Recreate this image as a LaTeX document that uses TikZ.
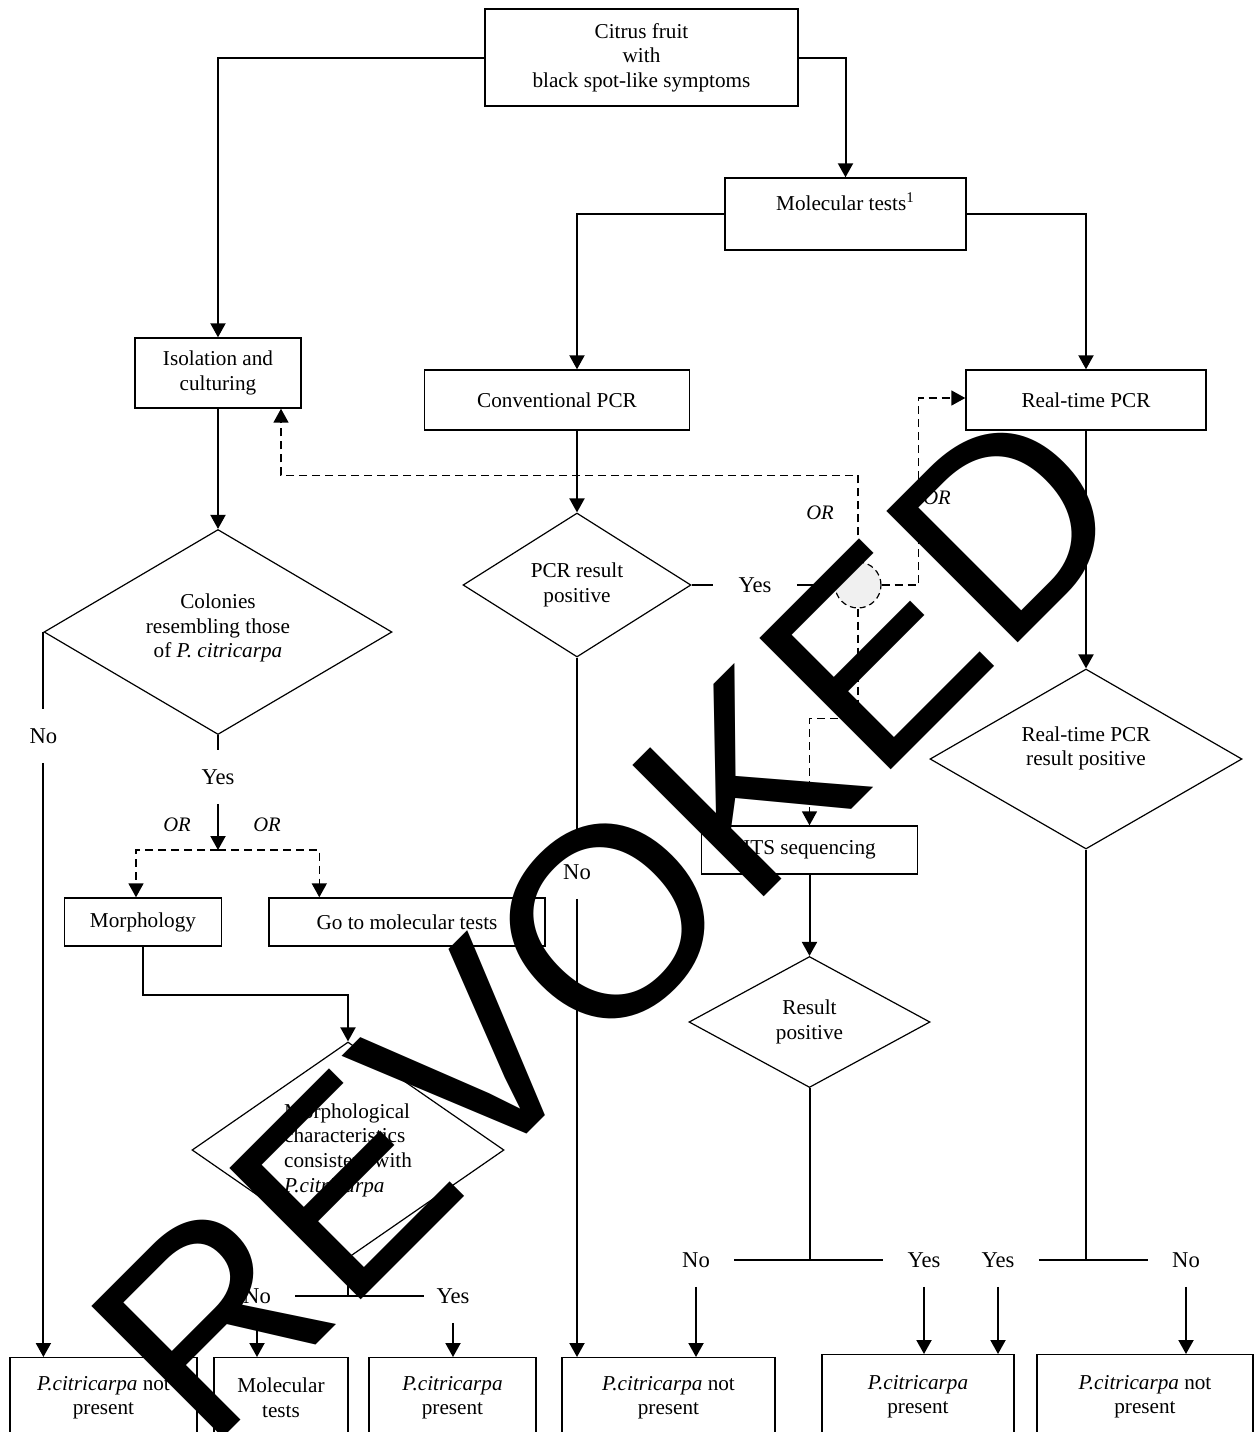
\documentclass[tikz,border=0pt]{standalone}
\usepackage{fontspec}
\setmainfont{Liberation Serif}
\newfontfamily\wmfont{Liberation Sans}
\usetikzlibrary{shapes.geometric,arrows.meta}

\begin{document}
\begin{tikzpicture}[x=0.5pt,y=-0.5pt,
    font=\fontsize{10.6}{12.3}\selectfont,
    box/.style={shape=rectangle,draw,line width=0.7pt,align=center,inner sep=0pt},
    test/.style={shape=diamond,draw,line width=0.6pt,align=center,inner sep=0pt,aspect=1.7},
    lbl/.style={inner xsep=12pt,inner ysep=9.5pt,font=\fontsize{11.3}{13}\selectfont},
    orlbl/.style={inner sep=0pt,font=\fontsize{10.3}{12}\selectfont\itshape},
    link/.style={line width=1pt},
    go/.style={line width=1pt,-{Triangle[length=7pt,width=7.5pt]}},
    dashgo/.style={line width=0.8pt,dash pattern=on 4pt off 2.5pt,-{Triangle[length=7pt,width=7.5pt]}}]

      \useasboundingbox (0,0) rectangle (1256,1432);

      \path node (citrus) at (641.5,57.5) [box,minimum width=156.5pt,minimum height=48.5pt]
            {Citrus fruit\\with\\black spot-like symptoms};
      \path node (moltop) at (845.5,214) [box,minimum width=120.5pt,minimum height=36pt]
            {Molecular tests\textsuperscript{1}\\\mbox{}};

      \path node (iso) at (218,373) [box,minimum width=83pt,minimum height=35pt]
            {Isolation and\\culturing};
      \path node (conv) at (557,400) [box,minimum width=132.5pt,minimum height=30pt]
            {Conventional PCR};
      \path node (rt) at (1086,400) [box,minimum width=120pt,minimum height=30pt]
            {Real-time PCR};

      \path node (colonies) at (218,632) [test,minimum width=174pt,minimum height=102.5pt]
            {Colonies\\resembling those\\of \textit{P. citricarpa}\\[-6.3pt]\mbox{}};
      \path node (pcr) at (577,585) [test,minimum width=114pt,minimum height=72pt]
            {PCR result\\positive};
      \path node (orc) at (858,585) [circle,draw,line width=0.6pt,dash pattern=on 3pt off 2pt,
            fill=black!6,minimum size=23pt,inner sep=0pt] {};
      \path node (rtd) at (1086,759) [test,minimum width=156pt,minimum height=90pt]
            {Real-time PCR\\result positive\\[0.7pt]\mbox{}};

      \path node (its) at (809.5,850) [box,minimum width=108pt,minimum height=24pt]
            {ITS sequencing};
      \path node (res) at (809.5,1022) [test,minimum width=120.5pt,minimum height=65.5pt]
            {Result\\positive};

      \path node (morph) at (143,922) [box,minimum width=78.5pt,minimum height=24pt]
            {Morphology};
      \path node (goto) at (407,922) [box,minimum width=138pt,minimum height=24pt]
            {Go to molecular tests};
      \path node (morphd) at (348,1150) [test,minimum width=156pt,minimum height=108pt,align=left]
            {Morphological\\characteristics\\consistent with\\\textit{P.citricarpa}};

      \path node (b1) at (103.5,1357) [box,anchor=north,minimum width=93.5pt,minimum height=40pt]
            {\textit{P.citricarpa} not\\present};
      \path node (b2) at (281,1357) [box,anchor=north,minimum width=67pt,minimum height=40pt]
            {Molecular\\tests};
      \path node (b3) at (452.5,1357) [box,anchor=north,minimum width=83.5pt,minimum height=40pt]
            {\textit{P.citricarpa}\\present};
      \path node (b4) at (668.5,1357) [box,anchor=north,minimum width=106.5pt,minimum height=40pt]
            {\textit{P.citricarpa} not\\present};
      \path node (b5) at (918,1354) [box,anchor=north,minimum width=96pt,minimum height=42pt]
            {\textit{P.citricarpa}\\present};
      \path node (b6) at (1145,1354) [box,anchor=north,minimum width=108pt,minimum height=42pt]
            {\textit{P.citricarpa} not\\present};

      \path node (noC) at (colonies.west |- 0,736) [lbl] {No};
      \path node (yesC) at (colonies.south |- 0,777) [lbl] {Yes};
      \coordinate (split) at (colonies.south |- 0,850);
      \path node (orL) at (177,825) [orlbl] {OR};
      \path node (orR) at (267,825) [orlbl] {OR};
      \path node (yesP) at (755,585) [lbl,inner xsep=12.5pt] {Yes};
      \path node (noMid) at (pcr.south |- 0,872) [lbl] {No};
      \path node (orU) at (820,513) [orlbl] {OR};
      \path node (orV) at (937,498) [orlbl] {OR};
      \path node (noM) at (257,1296) [lbl] {No};
      \path node (yesM) at (453,1296) [lbl,inner xsep=6pt] {Yes};
      \path node (noR) at (696,1260) [lbl] {No};
      \path node (yesR) at (924,1260) [lbl] {Yes};
      \path node (yesRT) at (998,1260) [lbl] {Yes};
      \path node (noRT) at (1186,1260) [lbl] {No};

      \draw[go] (citrus.west) -| (iso.north);
      \draw[go] (citrus.east) -| (moltop.north);
      \draw[go] (moltop.west) -| (conv.north -| pcr.north);
      \draw[go] (moltop.east) -| (rt.north);

      \draw[go] (iso.south) -- (colonies.north);
      \draw[link] (colonies.west) -- (noC.north);
      \draw[go] (noC.south) -- (noC.south |- b1.north);
      \draw[link] (colonies.south) -- (yesC.north);
      \draw[go] (yesC.south) -- (split);
      \draw[dashgo] (split) -| ([xshift=-3.5pt]morph.north);
      \draw[dashgo] (split) -| ([xshift=25.5pt]goto.north west);
      \draw[go] (morph.south) -- ++(0,48) -| (morphd.north);
      \draw[link] (morphd.south) -- (morphd.south |- noM.east);
      \draw[link] (noM.east) -- (yesM.west);
      \draw[go] (noM.south) -- (noM.south |- b2.north);
      \draw[go] (yesM.south) -- (yesM.south |- b3.north);

      \draw[go] (conv.south -| pcr.north) -- (pcr.north);
      \draw[link] (pcr.east) -- (yesP.west);
      \draw[link] (yesP.east) -- (orc.west);
      \draw[link] (pcr.south) -- (noMid.north);
      \draw[go] (noMid.south) -- (noMid.south |- b4.north);

      \draw[dashgo] (orc.north) -- ++(0,-86) -| ([xshift=31.5pt]iso.south);
      \draw[dashgo] (orc.east) -- ++(37,0) |- ([yshift=1pt]rt.west);
      \draw[dashgo] (orc.south) -- ++(0,110) -| (its.north);

      \draw[go] (its.south) -- (res.north);
      \draw[link] (res.south) -- (res.south |- noR.east);
      \draw[link] (noR.east) -- (yesR.west);
      \draw[go] (noR.south) -- (noR.south |- b4.north);
      \draw[go] (yesR.south) -- (yesR.south |- b5.north);

      \draw[go] (rt.south) -- (rtd.north);
      \draw[link] (rtd.south) -- (rtd.south |- yesRT.east);
      \draw[link] (yesRT.east) -- (noRT.west);
      \draw[go] (yesRT.south) -- (yesRT.south |- b5.north);
      \draw[go] (noRT.south) -- (noRT.south |- b6.north);

      \path node (stamp) at (674,987) [anchor=base,rotate=45,inner sep=0pt,
            font=\wmfont\fontsize{135}{135}\selectfont] {REVOKED};
\end{tikzpicture}
\end{document}
